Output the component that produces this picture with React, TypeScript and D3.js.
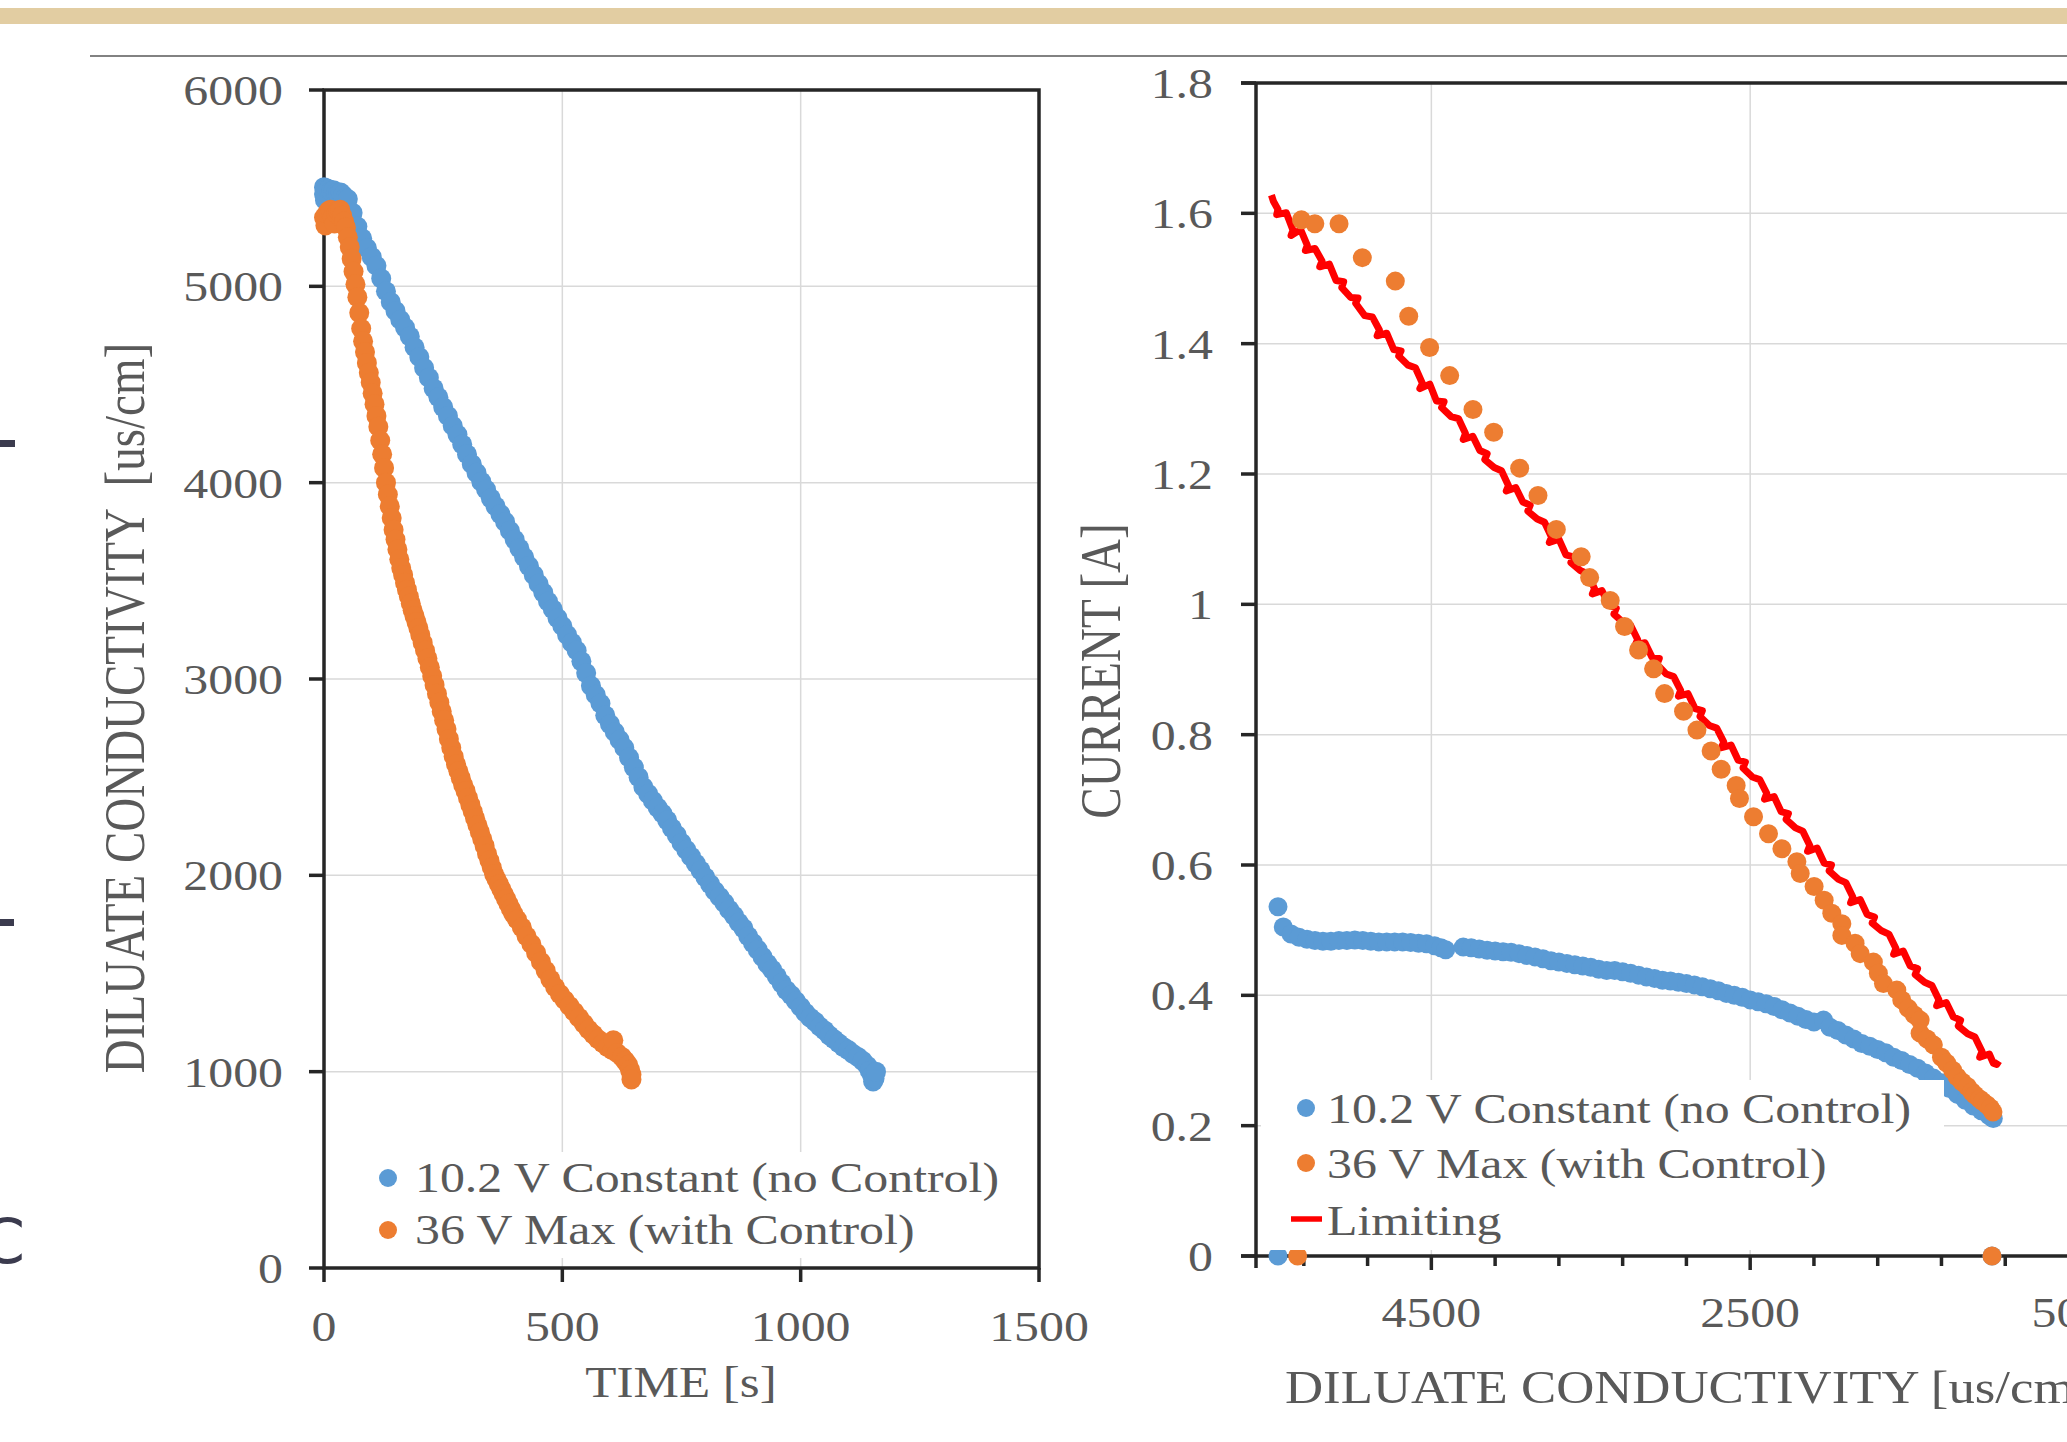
import * as d3 from "d3";
import React from "react";

// ---- left chart: conductivity vs time ----
const blueTime = [0, 0, 2, 5, 10, 15, 20, 25, 30, 35, 40, 45, 50, 60, 70, 80, 90, 100, 110, 120, 130, 140, 150, 160, 170, 180, 190, 200, 210, 220, 230, 240, 250, 260, 270, 280, 290, 300, 310, 320, 330, 340, 350, 360, 370, 380, 390, 400, 410, 420, 430, 440, 450, 460, 470, 480, 490, 500, 510, 520, 530, 540, 550, 560, 570, 580, 590, 600, 610, 620, 630, 640, 650, 660, 670, 680, 690, 700, 710, 720, 730, 740, 750, 760, 770, 780, 790, 800, 810, 820, 830, 840, 850, 860, 870, 880, 890, 900, 910, 920, 930, 940, 950, 960, 970, 980, 990, 1000, 1010, 1020, 1030, 1040, 1050, 1060, 1070, 1080, 1090, 1100, 1110, 1120, 1130, 1140, 1145, 1150, 1152, 1155, 1158];
const blueCond = [5505, 5470, 5440, 5500, 5495, 5485, 5490, 5475, 5470, 5478, 5465, 5450, 5445, 5375, 5305, 5245, 5195, 5150, 5105, 5040, 4975, 4920, 4875, 4830, 4790, 4745, 4690, 4640, 4585, 4535, 4480, 4435, 4385, 4340, 4290, 4245, 4195, 4145, 4095, 4050, 4005, 3965, 3920, 3880, 3840, 3800, 3755, 3710, 3665, 3620, 3575, 3530, 3485, 3440, 3395, 3355, 3310, 3270, 3225, 3185, 3145, 3090, 3030, 2965, 2920, 2875, 2815, 2770, 2730, 2690, 2650, 2600, 2550, 2500, 2450, 2415, 2380, 2345, 2315, 2280, 2240, 2205, 2165, 2130, 2095, 2060, 2025, 1990, 1955, 1920, 1890, 1860, 1825, 1795, 1760, 1730, 1690, 1655, 1620, 1585, 1550, 1520, 1485, 1450, 1415, 1390, 1360, 1330, 1300, 1275, 1255, 1230, 1210, 1185, 1165, 1145, 1125, 1110, 1090, 1075, 1055, 1030, 1005, 980, 950, 965, 1000];

const orangeTime = [0, 3, 6, 10, 14, 18, 22, 26, 30, 34, 38, 42, 46, 50, 54, 58, 62, 66, 70, 74, 78, 82, 86, 90, 94, 98, 102, 106, 110, 114, 118, 122, 126, 130, 134, 138, 142, 146, 150, 154, 158, 162, 166, 170, 174, 178, 182, 186, 190, 194, 198, 202, 207, 212, 217, 222, 227, 232, 237, 242, 247, 252, 257, 262, 267, 272, 277, 282, 287, 292, 297, 302, 307, 312, 317, 322, 327, 332, 337, 342, 347, 352, 357, 362, 367, 372, 377, 382, 387, 392, 397, 405, 415, 425, 435, 445, 455, 465, 475, 485, 495, 505, 515, 525, 535, 545, 555, 565, 575, 585, 595, 605, 607, 615, 625, 632, 638, 642, 645, 645];
const orangeCond = [5350, 5310, 5370, 5385, 5390, 5350, 5320, 5370, 5385, 5390, 5360, 5330, 5300, 5250, 5200, 5140, 5075, 5010, 4945, 4865, 4785, 4720, 4665, 4610, 4560, 4510, 4455, 4400, 4340, 4285, 4215, 4145, 4075, 4000, 3940, 3880, 3820, 3760, 3710, 3660, 3610, 3565, 3530, 3490, 3455, 3420, 3385, 3350, 3320, 3290, 3260, 3225, 3185, 3145, 3105, 3060, 3015, 2970, 2925, 2880, 2835, 2790, 2745, 2695, 2650, 2605, 2565, 2530, 2495, 2460, 2430, 2395, 2360, 2325, 2290, 2255, 2220, 2185, 2150, 2110, 2075, 2040, 2005, 1980, 1955, 1930, 1905, 1880, 1855, 1830, 1805, 1775, 1735, 1690, 1650, 1605, 1560, 1515, 1470, 1430, 1395, 1365, 1335, 1305, 1275, 1245, 1215, 1190, 1165, 1145, 1125, 1110, 1160, 1095, 1075, 1055, 1035, 1010, 985, 960];

const leftXTicks = [0, 500, 1000, 1500];
const leftYTicks = [0, 1000, 2000, 3000, 4000, 5000, 6000];

// ---- right chart: current vs diluate conductivity ----
const rBlueCond = [5462, 5462, 5429, 5380, 5330, 5280, 5230, 5180, 5130, 5080, 5030, 4980, 4930, 4880, 4830, 4780, 4730, 4680, 4630, 4580, 4530, 4480, 4440, 4410, 4300, 4250, 4200, 4150, 4100, 4050, 4000, 3950, 3900, 3850, 3800, 3750, 3700, 3650, 3600, 3550, 3500, 3450, 3400, 3350, 3300, 3250, 3200, 3150, 3100, 3050, 3000, 2950, 2900, 2850, 2800, 2750, 2700, 2650, 2600, 2550, 2500, 2450, 2400, 2350, 2300, 2250, 2200, 2150, 2100, 2040, 2000, 1950, 1900, 1850, 1800, 1750, 1700, 1650, 1600, 1550, 1500, 1450, 1400, 1350, 1300, 1250, 1200, 1150, 1100, 1050, 1000, 975, 983];
const rBlueCurrent = [0, 0.536, 0.505, 0.494, 0.489, 0.486, 0.484, 0.483, 0.483, 0.484, 0.484, 0.485, 0.484, 0.483, 0.482, 0.482, 0.482, 0.482, 0.481, 0.480, 0.479, 0.476, 0.473, 0.470, 0.474, 0.473, 0.471, 0.469, 0.468, 0.467, 0.466, 0.464, 0.461, 0.459, 0.456, 0.453, 0.451, 0.449, 0.447, 0.445, 0.443, 0.440, 0.438, 0.438, 0.436, 0.434, 0.431, 0.428, 0.426, 0.423, 0.422, 0.420, 0.418, 0.416, 0.413, 0.410, 0.407, 0.403, 0.400, 0.397, 0.393, 0.390, 0.387, 0.383, 0.378, 0.373, 0.368, 0.363, 0.359, 0.362, 0.351, 0.346, 0.339, 0.333, 0.326, 0.322, 0.317, 0.312, 0.305, 0.300, 0.294, 0.288, 0.281, 0.273, 0.266, 0.257, 0.248, 0.239, 0.230, 0.223, 0.215, 0.211, 0];

const rOrangeCond = [5339, 5315, 5231, 5079, 4933, 4726, 4642, 4511, 4385, 4239, 4109, 3946, 3831, 3716, 3560, 3507, 3378, 3288, 3200, 3106, 3037, 2918, 2834, 2745, 2682, 2588, 2567, 2479, 2385, 2301, 2207, 2186, 2099, 2036, 1988, 1925, 1925, 1842, 1810, 1727, 1696, 1664, 1580, 1549, 1508, 1470, 1434, 1434, 1390, 1351, 1300, 1267, 1230, 1202, 1170, 1138, 1110, 1090, 1060, 1041, 1015, 993, 977, 983];
const rOrangeCurrent = [0, 1.590, 1.584, 1.584, 1.532, 1.496, 1.442, 1.394, 1.351, 1.299, 1.264, 1.209, 1.167, 1.115, 1.073, 1.041, 1.006, 0.966, 0.930, 0.901, 0.863, 0.836, 0.807, 0.775, 0.747, 0.722, 0.702, 0.674, 0.648, 0.625, 0.605, 0.587, 0.567, 0.546, 0.526, 0.510, 0.492, 0.480, 0.464, 0.451, 0.434, 0.418, 0.408, 0.393, 0.380, 0.370, 0.362, 0.342, 0.333, 0.324, 0.305, 0.296, 0.285, 0.275, 0.267, 0.260, 0.252, 0.247, 0.241, 0.237, 0.232, 0.227, 0.221, 0];

const limitingCond = [5503, 5490, 5462, 5470, 5410, 5368, 5380, 5320, 5278, 5290, 5230, 5186, 5200, 5140, 5098, 5050, 5062, 5006, 4960, 4975, 4918, 4870, 4826, 4840, 4780, 4736, 4690, 4705, 4646, 4600, 4556, 4572, 4510, 4468, 4420, 4436, 4376, 4330, 4286, 4300, 4240, 4196, 4150, 4165, 4106, 4060, 4016, 4030, 3970, 3926, 3880, 3895, 3836, 3790, 3746, 3760, 3700, 3656, 3610, 3625, 3566, 3520, 3476, 3490, 3430, 3386, 3340, 3355, 3296, 3250, 3206, 3220, 3160, 3116, 3070, 3085, 3026, 2980, 2936, 2950, 2890, 2846, 2800, 2815, 2756, 2710, 2666, 2680, 2620, 2576, 2530, 2545, 2486, 2440, 2396, 2410, 2350, 2306, 2260, 2275, 2216, 2170, 2126, 2140, 2080, 2036, 1990, 2005, 1946, 1900, 1856, 1870, 1810, 1766, 1720, 1735, 1676, 1630, 1586, 1600, 1540, 1496, 1450, 1465, 1406, 1360, 1316, 1330, 1270, 1226, 1180, 1195, 1136, 1090, 1046, 1060, 1000, 975, 953, 940];
const limitingCurrent = [1.628, 1.618, 1.606, 1.598, 1.601, 1.574, 1.566, 1.575, 1.551, 1.543, 1.546, 1.527, 1.518, 1.522, 1.497, 1.495, 1.486, 1.471, 1.470, 1.462, 1.443, 1.441, 1.421, 1.412, 1.416, 1.391, 1.389, 1.381, 1.367, 1.363, 1.339, 1.331, 1.338, 1.312, 1.311, 1.302, 1.288, 1.285, 1.262, 1.253, 1.258, 1.236, 1.231, 1.222, 1.210, 1.205, 1.182, 1.174, 1.179, 1.157, 1.152, 1.143, 1.131, 1.126, 1.103, 1.095, 1.100, 1.076, 1.073, 1.064, 1.052, 1.047, 1.024, 1.016, 1.021, 0.999, 0.994, 0.985, 0.972, 0.968, 0.946, 0.938, 0.941, 0.919, 0.917, 0.908, 0.893, 0.889, 0.868, 0.859, 0.863, 0.840, 0.837, 0.828, 0.814, 0.810, 0.789, 0.780, 0.784, 0.761, 0.758, 0.749, 0.735, 0.731, 0.710, 0.701, 0.705, 0.682, 0.679, 0.670, 0.657, 0.652, 0.630, 0.621, 0.626, 0.603, 0.600, 0.591, 0.578, 0.573, 0.551, 0.542, 0.547, 0.524, 0.520, 0.511, 0.499, 0.494, 0.472, 0.463, 0.468, 0.445, 0.441, 0.432, 0.420, 0.415, 0.393, 0.384, 0.389, 0.367, 0.362, 0.353, 0.341, 0.336, 0.314, 0.305, 0.310, 0.296, 0.294, 0.299];

const rightYTicks = [0, 0.2, 0.4, 0.6, 0.8, 1, 1.2, 1.4, 1.6, 1.8];
const rightXLabels = [4500, 2500, 500];
const rightXMinor = d3.range(500, 5600, 400);

const blueLabel = "10.2 V Constant (no Control)";
const orangeLabel = "36 V Max (with Control)";
const limitLabel = "Limiting";

const BLUE = "#5B9BD5";
const ORANGE = "#ED7D31";
const RED = "#FF0000";
const TEXT = "#595959";
const AXIS = "#262626";
const GRID = "#D9D9D9";
const FONT = "'Liberation Serif', 'Times New Roman', serif";
const SX = 1.16; // the slide is stretched sideways

function HText({ x, y, anchor = "start", size = 43, children }: any) {
  return (
    <text transform={`translate(${x},${y}) scale(${SX},1)`} textAnchor={anchor}
      fontSize={size} fill={TEXT} fontFamily={FONT}>{children}</text>
  );
}

function VText({ x, y, size = 47, children }: any) {
  return (
    <text transform={`translate(${x},${y}) rotate(-90) scale(1,1.22)`} textAnchor="middle"
      fontSize={size} fill={TEXT} fontFamily={FONT} style={{ whiteSpace: "pre" }}>{children}</text>
  );
}

function LeftChart() {
  const x = d3.scaleLinear().domain([0, 1500]).range([324, 1039]);
  const y = d3.scaleLinear().domain([0, 6000]).range([1268, 90]);
  const [x0, x1] = x.range();
  const [y0, y1] = y.range();
  const r = 10;
  return (
    <g>
      {leftXTicks.slice(1, -1).map(t => (
        <line key={"gx" + t} x1={x(t)} x2={x(t)} y1={y1} y2={y0} stroke={GRID} strokeWidth={1.5} />
      ))}
      {leftYTicks.slice(1, -1).map(t => (
        <line key={"gy" + t} x1={x0} x2={x1} y1={y(t)} y2={y(t)} stroke={GRID} strokeWidth={1.5} />
      ))}
      <rect x={x0} y={y1} width={x1 - x0} height={y0 - y1} fill="none" stroke={AXIS} strokeWidth={3.5} />
      {leftYTicks.map(t => (
        <g key={"ty" + t}>
          <line x1={x0 - 15} x2={x0} y1={y(t)} y2={y(t)} stroke={AXIS} strokeWidth={3.5} />
          <HText x={283} y={y(t) + 15} anchor="end">{t}</HText>
        </g>
      ))}
      {leftXTicks.map(t => (
        <g key={"tx" + t}>
          <line x1={x(t)} x2={x(t)} y1={y0} y2={y0 + 14} stroke={AXIS} strokeWidth={3.5} />
          <HText x={x(t)} y={1341} anchor="middle">{t}</HText>
        </g>
      ))}
      <HText x={681} y={1397} anchor="middle" size={44}>TIME [s]</HText>
      <VText x={144} y={708}>{"DILUATE CONDUCTIVITY  [us/cm]"}</VText>
      {blueTime.map((t, i) => (
        <circle key={"b" + i} cx={x(t)} cy={y(blueCond[i])} r={r} fill={BLUE} />
      ))}
      {orangeTime.map((t, i) => (
        <circle key={"o" + i} cx={x(t)} cy={y(orangeCond[i])} r={r} fill={ORANGE} />
      ))}
      {/* legend */}
      <rect x={370} y={1152} width={645} height={106} fill="#fff" />
      <circle cx={388} cy={1178} r={9} fill={BLUE} />
      <HText x={415} y={1192}>{blueLabel}</HText>
      <circle cx={388} cy={1230} r={9} fill={ORANGE} />
      <HText x={415} y={1244}>{orangeLabel}</HText>
    </g>
  );
}

function RightChart() {
  const x = d3.scaleLinear().domain([5600, 500]).range([1256, 2069]);
  const y = d3.scaleLinear().domain([0, 1.8]).range([1256, 83]);
  const left = 1256, right = 2067;
  const [y0, y1] = y.range();
  const r = 9.5;
  const line = d3.line<number>().x(d => x(d)).y((_, i) => y(limitingCurrent[i]));
  return (
    <g>
      {rightXLabels.map(v => (
        <line key={"gx" + v} x1={x(v)} x2={x(v)} y1={y1} y2={y0} stroke={GRID} strokeWidth={1.5} />
      ))}
      {rightYTicks.slice(1, -1).map(t => (
        <line key={"gy" + t} x1={left} x2={right} y1={y(t)} y2={y(t)} stroke={GRID} strokeWidth={1.5} />
      ))}
      <line x1={left - 15} x2={right} y1={y1} y2={y1} stroke={AXIS} strokeWidth={3.5} />
      <line x1={left - 15} x2={right} y1={y0} y2={y0} stroke={AXIS} strokeWidth={3.5} />
      <line x1={left} x2={left} y1={y1} y2={y0 + 12} stroke={AXIS} strokeWidth={3.5} />
      {rightYTicks.map(t => (
        <g key={"ty" + t}>
          <line x1={left - 15} x2={left} y1={y(t)} y2={y(t)} stroke={AXIS} strokeWidth={3.5} />
          <HText x={1213} y={y(t) + 15} anchor="end">{t}</HText>
        </g>
      ))}
      {rightXMinor.map(v => (
        <line key={"tm" + v} x1={x(v)} x2={x(v)} y1={y0} y2={y0 + (rightXLabels.includes(v) ? 14 : 10)}
          stroke={AXIS} strokeWidth={3.5} />
      ))}
      {rightXLabels.map(v => (
        <HText key={"lx" + v} x={x(v)} y={1327} anchor="middle">{v}</HText>
      ))}
      <HText x={1285} y={1403} size={45.5}>DILUATE CONDUCTIVITY [us/cm]</HText>
      <VText x={1120} y={671}>CURRENT [A]</VText>
      <path d={line(limitingCond) || ""} fill="none" stroke={RED} strokeWidth={7} strokeLinejoin="round" />
      {rBlueCond.map((v, i) => (
        <circle key={"b" + i} cx={x(v)} cy={y(rBlueCurrent[i])} r={r} fill={BLUE} />
      ))}
      {rOrangeCond.map((v, i) => (
        <circle key={"o" + i} cx={x(v)} cy={y(rOrangeCurrent[i])} r={r} fill={ORANGE} />
      ))}
      {/* legend */}
      <rect x={1261} y={1080} width={683} height={170} fill="#fff" />
      <circle cx={1306} cy={1108} r={9} fill={BLUE} />
      <HText x={1327} y={1123}>{blueLabel}</HText>
      <circle cx={1306} cy={1163} r={9} fill={ORANGE} />
      <HText x={1327} y={1178}>{orangeLabel}</HText>
      <line x1={1291} x2={1322} y1={1219} y2={1219} stroke={RED} strokeWidth={5.5} />
      <HText x={1327} y={1235}>{limitLabel}</HText>
    </g>
  );
}

export default function App() {
  return (
    <svg width={2067} height={1442} viewBox="0 0 2067 1442"
      style={{ position: "absolute", left: 0, top: 0, background: "#fff" }}>
      <rect x={0} y={0} width={2067} height={1442} fill="#fff" />
      <rect x={0} y={8} width={2067} height={16} fill="#E2CDA2" />
      <line x1={90} x2={2067} y1={56} y2={56} stroke="#595959" strokeWidth={1.5} />
      {/* cut-off bits of the neighbouring slide element */}
      <rect x={0} y={440} width={15} height={7} fill="#3b3b4e" />
      <rect x={0} y={919} width={14} height={7} fill="#3b3b4e" />
      <text x={25} y={1263} textAnchor="end" fontSize={62} fill="#3b3b4e"
        fontFamily="'DejaVu Sans', sans-serif">C</text>
      <LeftChart />
      <RightChart />
    </svg>
  );
}
